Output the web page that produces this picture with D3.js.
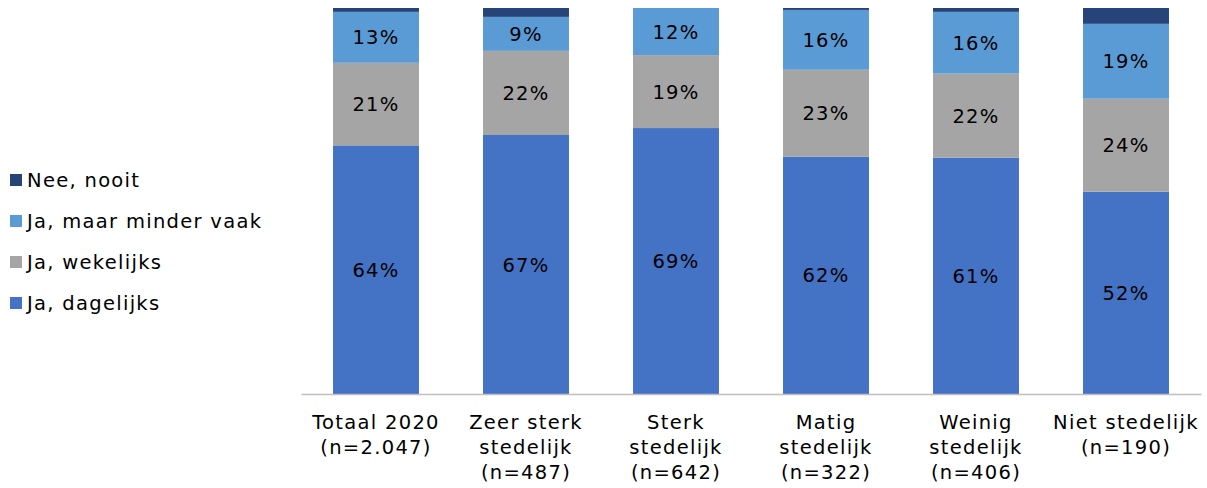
<!DOCTYPE html>
<html>
<head>
<meta charset="utf-8">
<script src="https://cdn.jsdelivr.net/npm/d3@7"></script>
<style>
  body { margin: 0; background: #fff; }
  svg { display: block; }
  text { font-family: 'DejaVu Sans', Verdana, sans-serif; font-size: 19.5px; letter-spacing: 1.3px; fill: #000; }
</style>
</head>
<body>
<div id="chart"></div>
<script>
// categories (multi line axis labels)
var categories = ["Totaal 2020", "Zeer sterk stedelijk", "Sterk stedelijk", "Matig stedelijk", "Weinig stedelijk", "Niet stedelijk"];
var categoryLines = [
  ["Totaal 2020", "(n=2.047)"],
  ["Zeer sterk", "stedelijk", "(n=487)"],
  ["Sterk", "stedelijk", "(n=642)"],
  ["Matig", "stedelijk", "(n=322)"],
  ["Weinig", "stedelijk", "(n=406)"],
  ["Niet stedelijk", "(n=190)"]
];

// series, bottom to top
var dagelijks   = [64.4, 67.1, 68.9, 61.5, 61.2, 52.4];
var wekelijks   = [21.4, 21.8, 18.9, 22.5, 21.8, 24.1];
var minderVaak  = [13.2,  8.8, 12.2, 15.5, 16.0, 19.4];
var nooit       = [ 1.0,  2.3,  0.0,  0.5,  1.0,  4.1];

var seriesNames = ["Ja, dagelijks", "Ja, wekelijks", "Ja, maar minder vaak", "Nee, nooit"];
var seriesColors = ["#4472C4", "#A5A5A5", "#5B9BD5", "#264478"];
var seriesValues = [dagelijks, wekelijks, minderVaak, nooit];
var showLabel = [true, true, true, false];

var width = 1207, height = 488;
var x0 = 301, x1 = 1201, yTop = 8, yBottom = 394;

var rows = categories.map(function(c, i) {
  return { idx: i, cat: c, s0: dagelijks[i], s1: wekelijks[i], s2: minderVaak[i], s3: nooit[i] };
});

var stacked = d3.stack().keys(["s0", "s1", "s2", "s3"])(rows);

var x = d3.scaleBand().domain(categories).range([x0, x1]).paddingInner(0.427).paddingOuter(0.2135);
var y = d3.scaleLinear().domain([0, 100]).range([yBottom, yTop]);

var svg = d3.select("#chart").append("svg")
  .attr("width", width)
  .attr("height", height);

// bars
var layer = svg.selectAll("g.layer")
  .data(stacked)
  .enter().append("g")
    .attr("class", "layer")
    .attr("fill", function(d, i) { return seriesColors[i]; });

layer.selectAll("rect")
  .data(function(d) { return d; })
  .enter().append("rect")
    .attr("x", function(d) { return x(d.data.cat); })
    .attr("width", x.bandwidth())
    .attr("y", function(d) { return y(d[1]); })
    .attr("height", function(d) { return Math.max(0, y(d[0]) - y(d[1])); });

// data labels
stacked.forEach(function(s, si) {
  if (!showLabel[si]) return;
  svg.append("g").selectAll("text")
    .data(s)
    .enter().append("text")
      .attr("x", function(d) { return x(d.data.cat) + x.bandwidth() / 2; })
      .attr("y", function(d) { return (y(d[0]) + y(d[1])) / 2; })
      .attr("dy", "0.36em")
      .attr("text-anchor", "middle")
      .text(function(d) { return Math.round(seriesValues[si][d.data.idx]) + "%"; });
});

// x axis
var xAxis = svg.append("g")
  .attr("transform", "translate(0," + yBottom + ")")
  .call(d3.axisBottom(x).tickSize(0).tickFormat(""));
xAxis.select(".domain").attr("stroke", "#BFBFBF").attr("stroke-width", 1.5);

categories.forEach(function(c, i) {
  var cx = x(c) + x.bandwidth() / 2;
  var t = svg.append("text")
    .attr("x", cx)
    .attr("y", 429)
    .attr("text-anchor", "middle");
  categoryLines[i].forEach(function(line, li) {
    t.append("tspan")
      .attr("x", cx)
      .attr("dy", li === 0 ? 0 : 25)
      .text(line);
  });
});

// legend, top entry is the top series
var legendOrder = [3, 2, 1, 0];
var legend = svg.selectAll(".legend")
  .data(legendOrder)
  .enter().append("g")
    .attr("class", "legend")
    .attr("transform", function(d, i) { return "translate(10," + (180 + i * 41) + ")"; });

legend.append("rect")
  .attr("x", 0)
  .attr("y", -6)
  .attr("width", 12)
  .attr("height", 12)
  .attr("fill", function(d) { return seriesColors[d]; });

legend.append("text")
  .attr("x", 17)
  .attr("y", 0)
  .attr("dy", "0.36em")
  .text(function(d) { return seriesNames[d]; });
</script>
</body>
</html>
